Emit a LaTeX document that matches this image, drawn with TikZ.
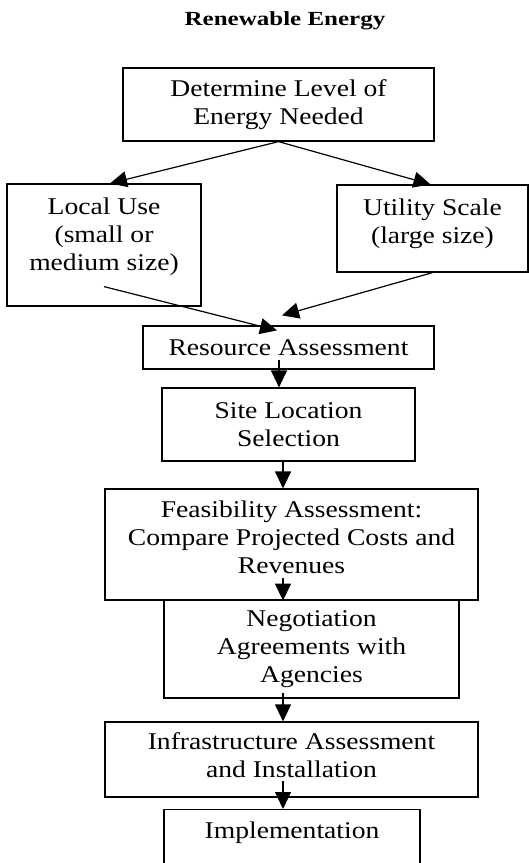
\documentclass[tikz,border=0pt]{standalone}
\usepackage{fontspec}
\setmainfont[FakeStretch=1.15]{Liberation Serif}
\newfontfamily\headfont[FakeStretch=1.25]{Liberation Serif}
\usetikzlibrary{arrows.meta}

\begin{document}
\begin{tikzpicture}[x=1bp,y=-1bp,
  box/.style={draw,line width=1.2bp,inner sep=0pt,align=center,font=\fontsize{24bp}{28bp}\selectfont},
  arr/.style={line width=1.2bp,-{Triangle[length=17bp,width=16bp]}}]
  \useasboundingbox (0,0) rectangle (529,863);

  \node[font=\headfont\fontsize{20bp}{22bp}\selectfont\bfseries] (title) at (285,21) {Renewable Energy};

  \node[box,minimum width=311bp,minimum height=73bp] (need) at (278.5,104.5) {Determine Level of\\Energy Needed};
  \node[box,minimum width=194bp,minimum height=122bp,text depth=21.5bp] (local) at (104,245) {Local Use\\(small or\\medium size)};
  \node[box,minimum width=191bp,minimum height=87bp,text depth=15bp] (utility) at (432.5,228.5) {Utility Scale\\(large size)};
  \node[box,minimum width=291bp,minimum height=43bp] (resource) at (288.5,347.5) {Resource Assessment};
  \node[box,minimum width=253bp,minimum height=73bp] (site) at (288.5,424.5) {Site Location\\Selection};
  \node[box,minimum width=373bp,minimum height=111bp,text depth=14.5bp] (feas) at (291.5,544.5) {Feasibility Assessment:\\Compare Projected Costs and\\Revenues};
  \node[box,minimum width=295bp,minimum height=98bp] (nego) at (311.5,649) {Negotiation\\Agreements with\\Agencies};
  \node[box,minimum width=373bp,minimum height=75bp,text depth=8.5bp] (infra) at (291.5,759.5) {Infrastructure Assessment\\and Installation};
  \node[box,anchor=north,minimum width=256bp,text height=29bp,text depth=45bp] (impl) at (292,809) {Implementation};

  % split by scale
  \draw[arr] (need.south) -- ([xshift=6bp]local.north);
  \draw[arr] (need.south) -- ([xshift=-2bp]utility.north);
  \draw[arr] ([yshift=20bp]local.south) -- ([xshift=-11.5bp,yshift=-5bp]resource.north);
  \draw[arr] (utility.south) -- ([xshift=-6.5bp,yshift=10bp]resource.north);

  % main chain
  \draw[arr] ([xshift=-9.5bp,yshift=10bp]resource.south) -- ([xshift=-9.5bp]site.north);
  \draw[arr] ([xshift=-5.5bp]site.south) -- ([xshift=-5.5bp]site.south |- feas.north);
  \draw[arr] ([xshift=-8.5bp,yshift=23bp]feas.south) -- ([xshift=-8.5bp]feas.south);
  \draw[arr] ([xshift=-28.5bp,yshift=6bp]nego.south) -- ([xshift=-28.5bp]nego.south |- infra.north);
  \draw[arr] ([xshift=-8.5bp,yshift=17bp]infra.south) -- ([xshift=-8.5bp]infra.south |- impl.north);
\end{tikzpicture}
\end{document}
